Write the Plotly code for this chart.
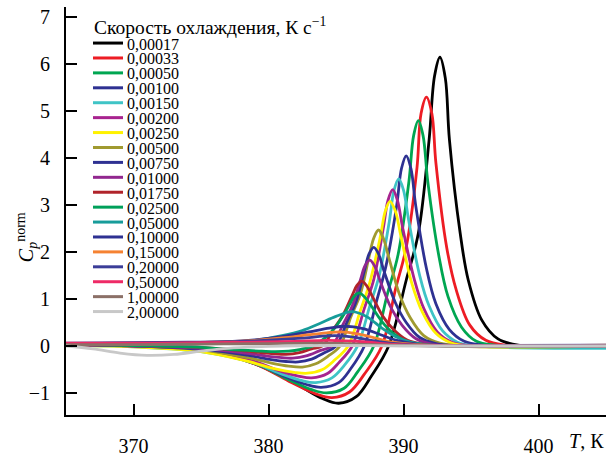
import plotly.graph_objects as go

rates = ["0,00017", "0,00033", "0,00050", "0,00100", "0,00150", "0,00200", "0,00250",
         "0,00500", "0,00750", "0,01000", "0,01750", "0,02500", "0,05000", "0,10000",
         "0,15000", "0,20000", "0,50000", "1,00000", "2,00000"]

colors = ["#000000", "#ed1c24", "#00a651", "#2e3192", "#3fc4c6", "#a8238f", "#fff200",
          "#a09a30", "#2e3192", "#92278f", "#b0232a", "#00a05a", "#179c9a", "#2e3192",
          "#f58232", "#3b3d98", "#ee2a66", "#8b7067", "#c8c8c8"]

curve_T = [
    [365, 370, 375, 379, 382, 384, 385.2, 386.5, 387.6, 388.9, 390.2, 391.1, 391.9, 392.3, 392.7, 393.1, 393.4, 394.2, 394.8, 395.8, 397, 398.5, 405],
    [365, 370, 375, 379, 381.7, 383.5, 384.7, 386, 387.1, 388.4, 389.4, 390.2, 391.0, 391.3, 391.7, 392.1, 392.4, 393.2, 393.9, 394.9, 396.1, 397.5, 405],
    [365, 370, 375, 379, 381.5, 383.2, 384.3, 385.6, 386.6, 387.8, 388.8, 389.6, 390.4, 390.75, 391.1, 391.45, 391.8, 392.6, 393.3, 394.3, 395.4, 396.8, 405],
    [365, 370, 375, 379, 381.2, 382.8, 383.9, 385.2, 386.1, 387.1, 388.0, 388.7, 389.5, 389.85, 390.2, 390.55, 390.9, 391.7, 392.4, 393.4, 394.5, 395.8, 405],
    [365, 370, 375, 379, 381, 382.5, 383.5, 384.7, 385.6, 386.6, 387.5, 388.2, 388.95, 389.3, 389.65, 390.0, 390.4, 391.2, 391.9, 392.9, 394.0, 395.4, 405],
    [365, 370, 375, 379, 380.8, 382.2, 383.2, 384.4, 385.2, 386.2, 387.1, 387.8, 388.5, 388.85, 389.2, 389.55, 389.95, 390.8, 391.5, 392.5, 393.6, 395, 405],
    [365, 370, 375, 378.5, 380.5, 381.9, 382.9, 384.0, 384.9, 385.9, 386.8, 387.5, 388.3, 388.65, 389.0, 389.4, 389.8, 390.6, 391.4, 392.4, 393.5, 395, 405],
    [365, 370, 375, 378.5, 380.3, 381.5, 382.5, 383.5, 384.4, 385.3, 386.1, 386.8, 387.45, 387.8, 388.15, 388.5, 388.9, 389.7, 390.5, 391.5, 392.7, 394.2, 405],
    [365, 370, 375, 378.5, 380.2, 381.3, 382.2, 383.2, 384.1, 385.0, 385.8, 386.5, 387.1, 387.45, 387.8, 388.15, 388.55, 389.4, 390.2, 391.2, 392.4, 394, 405],
    [365, 370, 375, 378.3, 380, 381, 381.8, 382.8, 383.8, 384.7, 385.5, 386.2, 386.8, 387.15, 387.5, 387.85, 388.25, 389.1, 389.9, 390.9, 392.1, 393.8, 405],
    [365, 370, 375, 378, 379.7, 380.5, 381.3, 382.3, 383.2, 384.0, 384.8, 385.5, 386.2, 386.55, 386.9, 387.25, 387.65, 388.5, 389.3, 390.3, 391.6, 393.3, 405],
    [365, 370, 375, 378, 379.5, 380.5, 381.5, 382.4, 383.3, 384.1, 384.9, 385.6, 386.0, 386.35, 386.7, 387.1, 387.5, 388.4, 389.2, 390.2, 391.5, 393.2, 405],
    [365, 370, 374, 377, 379, 381, 382.5, 383.8, 385, 386.2, 387.3, 388.4, 389.4, 390.5, 392, 394, 405],
    [365, 370, 374, 377, 379, 381, 383, 384.5, 385.7, 387, 388.3, 389.5, 391, 393, 405],
    [365, 370, 374, 377, 379, 381, 383, 384.3, 385.3, 386.6, 387.9, 389.2, 391, 393, 405],
    [365, 370, 374, 377, 379, 381, 383, 384.0, 385.0, 386.3, 387.6, 389.0, 391, 393, 405],
    [365, 370, 375, 379, 382, 384.5, 387, 389, 392, 405],
    [365, 370, 375, 380, 384, 388, 392, 405],
    [365, 367, 369, 371, 373, 375, 377, 380, 385, 390, 405],
]

curve_Cp = [
    [0.03, 0.0, -0.1, -0.38, -0.8, -1.12, -1.22, -1.08, -0.65, 0.0, 1.4, 2.4, 4.4, 5.75, 6.15, 5.7, 4.4, 2.4, 1.4, 0.55, 0.15, 0.02, 0.0],
    [0.03, 0.0, -0.1, -0.38, -0.78, -1.02, -1.10, -0.98, -0.6, 0.0, 1.2, 2.1, 3.8, 4.95, 5.30, 4.95, 3.9, 2.1, 1.2, 0.45, 0.12, 0.02, 0.0],
    [0.03, 0.0, -0.1, -0.37, -0.72, -0.93, -1.0, -0.9, -0.55, 0.0, 1.1, 1.95, 3.5, 4.48, 4.80, 4.48, 3.5, 1.95, 1.05, 0.4, 0.1, 0.02, 0.0],
    [0.03, 0.0, -0.1, -0.36, -0.65, -0.82, -0.88, -0.78, -0.48, 0.0, 0.95, 1.7, 3.0, 3.78, 4.05, 3.78, 3.0, 1.65, 0.9, 0.35, 0.1, 0.02, 0.0],
    [0.02, -0.02, -0.12, -0.37, -0.6, -0.74, -0.78, -0.68, -0.42, 0.0, 0.85, 1.5, 2.65, 3.32, 3.56, 3.32, 2.65, 1.5, 0.85, 0.32, 0.08, 0.0, -0.05],
    [0.03, 0.0, -0.1, -0.33, -0.53, -0.64, -0.68, -0.58, -0.36, 0.0, 0.8, 1.42, 2.5, 3.1, 3.33, 3.1, 2.5, 1.42, 0.8, 0.3, 0.08, 0.01, 0.0],
    [0.02, -0.02, -0.12, -0.33, -0.49, -0.56, -0.58, -0.5, -0.3, 0.0, 0.75, 1.35, 2.35, 2.87, 3.08, 2.87, 2.35, 1.35, 0.72, 0.27, 0.07, 0.0, 0.0],
    [0.03, 0.0, -0.08, -0.25, -0.37, -0.43, -0.45, -0.38, -0.22, 0.0, 0.62, 1.1, 1.9, 2.3, 2.47, 2.3, 1.9, 1.1, 0.6, 0.22, 0.06, 0.0, 0.0],
    [0.03, 0.0, -0.07, -0.2, -0.29, -0.33, -0.34, -0.28, -0.15, 0.0, 0.5, 0.95, 1.6, 1.96, 2.10, 1.96, 1.6, 0.92, 0.5, 0.18, 0.05, 0.0, 0.0],
    [0.03, 0.0, -0.05, -0.15, -0.22, -0.25, -0.26, -0.21, -0.1, 0.0, 0.45, 0.85, 1.4, 1.71, 1.83, 1.71, 1.4, 0.8, 0.44, 0.16, 0.04, 0.0, 0.0],
    [0.04, 0.01, -0.03, -0.1, -0.15, -0.17, -0.18, -0.14, -0.06, 0.0, 0.35, 0.65, 1.08, 1.29, 1.38, 1.29, 1.08, 0.62, 0.34, 0.12, 0.03, 0.0, 0.0],
    [0.04, 0.01, -0.03, -0.09, -0.11, -0.12, -0.11, -0.07, 0.0, 0.15, 0.38, 0.68, 0.88, 1.06, 1.13, 1.05, 0.9, 0.52, 0.28, 0.1, 0.03, 0.0, 0.0],
    [0.05, 0.04, 0.04, 0.07, 0.12, 0.22, 0.33, 0.48, 0.63, 0.73, 0.62, 0.38, 0.2, 0.08, 0.02, 0.0, -0.02],
    [0.05, 0.06, 0.07, 0.09, 0.13, 0.2, 0.3, 0.38, 0.42, 0.37, 0.24, 0.12, 0.04, 0.01, 0.0],
    [0.05, 0.06, 0.07, 0.09, 0.12, 0.17, 0.24, 0.28, 0.30, 0.26, 0.17, 0.08, 0.03, 0.01, 0.02],
    [0.06, 0.07, 0.08, 0.09, 0.11, 0.14, 0.18, 0.21, 0.22, 0.19, 0.12, 0.06, 0.02, 0.01, 0.02],
    [0.06, 0.06, 0.07, 0.08, 0.1, 0.12, 0.09, 0.04, 0.01, 0.0],
    [0.03, 0.03, 0.04, 0.05, 0.06, 0.03, 0.0, 0.0],
    [0.0, -0.06, -0.15, -0.2, -0.18, -0.11, -0.05, -0.01, 0.01, 0.0, 0.0],
]

x_ticks = [370, 380, 390, 400]
y_ticks = [-1, 0, 1, 2, 3, 4, 5, 6, 7]
y_tick_text = ["−1", "0", "1", "2", "3", "4", "5", "6", "7"]
legend_title = "Скорость охлаждения, К с<sup>−1</sup>"

FONT = "Liberation Serif"
W, H = 606, 457
ML, MR, MT, MB = 66, 0, 7, 37
PW, PH = W - ML - MR, H - MT - MB

fig = go.Figure()
for T, cp, c, name in zip(curve_T, curve_Cp, colors, rates):
    fig.add_trace(go.Scatter(x=T, y=cp, mode="lines", name=name,
                             line=dict(color=c, width=2.8, shape="spline", smoothing=1.0),
                             showlegend=False))

def px_x(p):
    return (p - ML) / PW

def px_y(p):
    return 1 - (p - MT) / PH

annotations = []
shapes = []
# compact manual legend, as in the original figure
annotations.append(dict(xref="paper", yref="paper", x=px_x(92), y=px_y(26), xanchor="left",
                        yanchor="middle", text=legend_title, showarrow=False,
                        font=dict(family=FONT, size=19.5, color="black")))
for i, (name, c) in enumerate(zip(rates, colors)):
    yc = 43.5 + 15.1 * i
    shapes.append(dict(type="line", xref="paper", yref="paper",
                       x0=px_x(93), x1=px_x(123), y0=px_y(yc), y1=px_y(yc),
                       line=dict(color=c, width=3)))
    annotations.append(dict(xref="paper", yref="paper", x=px_x(125), y=px_y(yc + 1),
                            xanchor="left", yanchor="middle", text=name, showarrow=False,
                            font=dict(family=FONT, size=16, color="black")))

# axis titles
annotations.append(dict(xref="paper", yref="paper", x=px_x(567), y=px_y(446),
                        xanchor="left", yanchor="middle", showarrow=False,
                        text="<i>T</i>, К", font=dict(family=FONT, size=20, color="black")))
annotations.append(dict(xref="paper", yref="paper", x=px_x(27), y=px_y(240),
                        xanchor="center", yanchor="middle", showarrow=False, textangle=-90,
                        text="<i>C</i><sub><i>p</i></sub><sup>norm</sup>",
                        font=dict(family=FONT, size=20, color="black")))

fig.update_layout(
    width=W, height=H,
    margin=dict(l=ML, r=MR, t=MT, b=MB, pad=0),
    paper_bgcolor="white", plot_bgcolor="white",
    font=dict(family=FONT, size=20, color="black"),
    showlegend=False,
    annotations=annotations,
    shapes=shapes,
    xaxis=dict(range=[365, 405], tickvals=x_ticks, ticks="inside", ticklen=11, tickwidth=1.5,
               tickcolor="black", showline=True, linecolor="black", linewidth=1.8,
               showgrid=False, zeroline=False, ticklabelstandoff=12,
               tickfont=dict(family=FONT, size=20)),
    yaxis=dict(range=[-1.47, 7.22], tickvals=y_ticks, ticktext=y_tick_text,
               ticks="inside", ticklen=11, tickwidth=1.5,
               tickcolor="black", showline=True, linecolor="black", linewidth=1.8,
               showgrid=False, zeroline=False, ticklabelstandoff=10,
               tickfont=dict(family=FONT, size=20)),
)

fig.write_html("out.html")
